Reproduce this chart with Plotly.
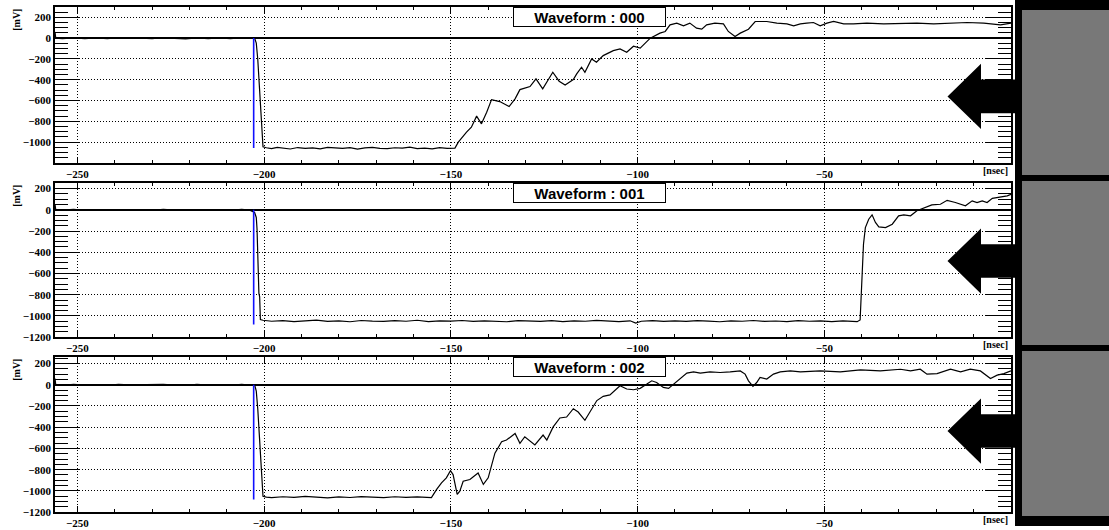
import plotly.graph_objects as go

W, H = 1109, 530

# ---------------- data (time in ns, amplitude in mV) ----------------
pre_t = [-256, -255.8, -254, -251, -248, -245, -242, -239, -236, -233, -230,
         -227, -224, -221, -218, -215, -212, -209, -206, -204]

# Waveform 000
t0 = pre_t + [-202.55, -202.1, -201.7, -201.4, -201.0, -200.75, -200.5, -200.3,
              -199.4, -198, -196.5, -195, -193, -191, -189, -187, -185, -183, -181,
              -179, -177, -175, -173, -171, -169, -167, -165, -163, -161, -159,
              -157, -155, -153, -151, -148.9, -148.0, -145.8, -144.5, -143.1,
              -141.8, -140.4, -139.1, -136.9, -134.4, -132.8, -131.5, -128.8,
              -127.2, -125.4, -124.3, -122.7, -121.0, -119.4, -117.2, -116.3,
              -115.0, -114.1, -112.3, -111.0, -109.2, -106.5, -104.7, -102.9,
              -101.1, -99.3, -96.6, -94.0, -92.6, -91.3, -89.5, -87.7, -86.0,
              -84.2, -82.8, -81.5, -79.3, -77.0, -75.7, -73.9, -72.5, -70.3,
              -68.5, -65.4, -62.7, -60.0, -58.2, -56.4, -54.7, -52.9, -51.1,
              -49.3, -47.5, -44.8, -42.2, -38.6, -34.1, -29.6, -25.2, -20.7,
              -16.2, -11.7, -7.3, -2.8, 0]
v0 = [60, 0, -4, 3, -6, 2, -5, 4, -3, 0, -6, 5, -2, -7, 3, -4, 2, -6, 4, -3] + \
     [0, -48, -205, -395, -553, -743, -965, -1044,
      -1054, -1062, -1050, -1058, -1066, -1052, -1060, -1055, -1064, -1050, -1058,
      -1061, -1053, -1067, -1056, -1051, -1060, -1063, -1054, -1058, -1049, -1062,
      -1057, -1065, -1053, -1060, -1057, -1000, -904, -856, -750,
      -824, -712, -591, -610, -658, -584, -495, -466,
      -392, -488, -424, -328, -414, -450, -399, -344,
      -280, -328, -200, -232, -168, -120, -104, -136,
      -78, -96, 0, 48, 64, 128, 144, 118, 144,
      96, 86, 128, 144, 137, 64, 15, 48, 86,
      160, 160, 144, 137, 118, 137, 144, 150, 118,
      144, 160, 137, 137, 144, 137, 144, 144, 137,
      144, 150, 144, 128, 145]

# Waveform 001
t1 = pre_t + [-202.55, -202.1, -201.9, -201.7, -201.5, -201.4, -201.2, -201.1,
              -201.0, -200.3, -198, -195, -192, -189, -186, -183, -180, -177,
              -174, -171, -168, -165, -162, -159, -156, -153, -150, -147, -144,
              -141, -138, -135, -132, -129, -126, -123, -120, -117, -114, -111,
              -108, -105, -102, -100.5, -99, -96, -93, -90, -87, -84, -81, -78,
              -75, -72, -69, -66, -63, -60, -57, -54, -51, -48, -45, -42,
              -41.2, -40.4, -39.9, -39.5, -39.0, -38.1, -37.2, -36.3, -35.4,
              -33.6, -31.8, -30.1, -28.7, -26.9, -25.2, -22.9, -21.2, -18.9,
              -17.1, -14.9, -12.2, -10.4, -9.1, -7.7, -6.4, -5.0, -2.8, -1.0, 0]
v1 = [55, 0, -3, 4, -5, 2, -6, 3, -4, 0, -5, 4, -3, -6, 2, -5, 3, -4, 5, -2] + \
     [-25, -72, -181, -507, -724, -787, -817, -988,
      -1035, -1041, -1050, -1044, -1053, -1047, -1040, -1051, -1046, -1055,
      -1043, -1049, -1052, -1045, -1050, -1041, -1054, -1047, -1049, -1043,
      -1052, -1046, -1050, -1055, -1044, -1048, -1051, -1045, -1053, -1047,
      -1050, -1042, -1049, -1054, -1046, -1068, -1050, -1045, -1052, -1047,
      -1051, -1044, -1049, -1055, -1046, -1050, -1043, -1052, -1048, -1054,
      -1045, -1050, -1047, -1053, -1046, -1049,
      -1054, -1038, -637, -324, -167, -88, -47, -119, -160,
      -167, -135, -56, -47, -56, -9, 22, 47, 53,
      90, 69, 38, 85, 69, 85, 69, 109, 122, 132, 147]

# Waveform 002
t2 = pre_t + [-202.55, -202.1, -201.7, -201.4, -201.0, -200.75, -200.5, -200.3,
              -199.4, -198, -195, -192, -189, -186, -183, -180, -177, -174, -171,
              -168, -165, -162, -159, -156.5,
              -155.2, -153.8, -152.5, -151.2, -150.1, -149.4, -148.3, -147.6,
              -146.7, -144.9, -142.7, -141.3, -140.0, -138.2, -136.4, -135.1,
              -132.8, -131.5, -130.2, -127.5, -125.3, -124.3, -122.6, -120.8,
              -119.0, -117.2, -115.9, -114.1, -112.7, -110.9, -109.2, -107.4,
              -104.7, -102.9, -101.1, -99.3, -97.5, -96.2, -94.9, -93.1, -91.7,
              -90.4, -88.6, -86.8, -85.0, -83.2, -80.6, -77.9, -75.2, -72.5,
              -71.2, -70.3, -69.1, -68.1, -67.2, -65.4, -63.6, -61.8, -59.1,
              -56.4, -51.1, -45.7, -40.3, -35.0, -29.6, -26.9, -24.3, -22.5,
              -19.8, -16.2, -13.5, -10.9, -8.2, -5.5, -3.7, -1.9, 0]
v2 = [58, 0, -5, 3, -4, 2, -6, 4, -2, 0, -5, 3, -4, -6, 3, -3, 2, -5, 4, -3] + \
     [0, -60, -230, -420, -600, -800, -990, -1050,
      -1058, -1063, -1055, -1061, -1052, -1060, -1066, -1056, -1062, -1054,
      -1059, -1064, -1055, -1061, -1057, -1060,
      -1063, -986, -924, -877, -809, -846, -1032, -1002,
      -909, -893, -831, -939, -877, -645, -537, -521,
      -459, -552, -490, -567, -474, -521, -397, -313,
      -304, -226, -257, -335, -257, -149, -109, -96,
      -9, -40, -47, -34, 6, 37, 21, -25, -34,
      6, 53, 109, 121, 109, 121, 115, 121, 130,
      100, 37, -16, 21, 68, 53, 100, 121, 130,
      121, 130, 121, 140, 130, 146, 130, 146, 100,
      105, 146, 121, 146, 130, 59, 90, 105, 130]

trig_t = [-202.8, -202.8]
trig_v = [[0, -1057], [0, -1081], [0, -1080]]

waves = [(t0, v0), (t1, v1), (t2, v2)]
titles = ["Waveform : 000", "Waveform : 001", "Waveform : 002"]
x_ticks = [-250, -200, -150, -100, -50]
y_ticks = [[200, 0, -200, -400, -600, -800, -1000],
           [200, 0, -200, -400, -600, -800, -1000, -1200],
           [200, 0, -200, -400, -600, -800, -1000, -1200]]
y_ranges = [[-1202, 300], [-1200, 254], [-1200, 262]]

# ---------------- layout helpers ----------------
def px(x):
    return x / W

def py(y):
    return 1 - y / H

panel_px = [(7, 165), (185, 341), (361, 518)]
x_dom = [px(55), px(1011)]

fig = go.Figure()
tickfont = dict(family="Liberation Serif", size=11, color="black", weight="bold")

for i, ((t, v), (top, bot)) in enumerate(zip(waves, panel_px)):
    n = "" if i == 0 else str(i + 1)
    fig.add_trace(go.Scatter(x=t, y=v, mode="lines", xaxis="x" + n, yaxis="y" + n,
                             line=dict(color="black", width=1.2), showlegend=False,
                             hoverinfo="skip"))
    fig.add_trace(go.Scatter(x=trig_t, y=trig_v[i], mode="lines", xaxis="x" + n,
                             yaxis="y" + n, line=dict(color="#1010ff", width=1.6),
                             showlegend=False, hoverinfo="skip"))
    common = dict(showline=True, linecolor="black", linewidth=1.5, mirror="allticks",
                  ticks="inside", tickcolor="black", tickwidth=1,
                  showgrid=True, gridcolor="black", griddash="1px,2px", gridwidth=1,
                  tickfont=tickfont, fixedrange=True)
    fig.layout["xaxis" + n] = dict(
        domain=x_dom, range=[-256, 0], anchor="y" + n, tickmode="array",
        tickvals=x_ticks, ticklen=6, zeroline=False,
        minor=dict(tickmode="linear", tick0=0, dtick=10, ticklen=3, ticks="inside",
                   tickcolor="black", showgrid=False),
        **common)
    fig.layout["yaxis" + n] = dict(
        domain=[py(bot), py(top)], range=y_ranges[i], anchor="x" + n,
        tickmode="array", tickvals=y_ticks[i], ticklen=25,
        zeroline=True, zerolinecolor="black", zerolinewidth=1.5,
        minor=dict(tickmode="linear", tick0=0, dtick=50, ticklen=13, ticks="inside",
                   tickcolor="black", showgrid=False),
        **common)
    # title box
    fig.add_annotation(xref="paper", yref="paper", x=px(589.5), y=py(top),
                       xanchor="center", yanchor="top", showarrow=False,
                       text="<b>" + titles[i] + "</b>",
                       font=dict(family="Liberation Sans", size=15, color="black"),
                       bgcolor="white", bordercolor="black", borderwidth=1,
                       borderpad=1, width=149, height=16)
    # axis units
    fig.add_annotation(xref="paper", yref="paper", x=px(17), y=py(top + 13),
                       xanchor="center", yanchor="middle", showarrow=False,
                       text="<b>[mV]</b>", textangle=-90,
                       font=dict(family="Liberation Serif", size=10, color="black"))
    fig.add_annotation(xref="paper", yref="paper", x=px(1010), y=py(bot + 7),
                       xanchor="right", yanchor="middle", showarrow=False,
                       text="<b>[nsec]</b>",
                       font=dict(family="Liberation Serif", size=10, color="black"))

# right-hand gray boxes with arrows (decoration)
shapes = [dict(type="rect", xref="paper", yref="paper", x0=px(1015), x1=px(1112),
               y0=py(532), y1=py(0), fillcolor="black", line=dict(width=0))]
for (g0, g1) in [(10, 177), (183, 349), (355, 522)]:
    shapes.append(dict(type="rect", xref="paper", yref="paper", x0=px(1022),
                       x1=px(1112), y0=py(g1), y1=py(g0), fillcolor="#787878",
                       line=dict(width=0)))
for cy in [97.5, 264, 436]:
    pts = [(947.5, cy), (981, cy - 33), (981, cy - 17), (1016, cy - 17),
           (1016, cy + 17), (981, cy + 17), (981, cy + 33)]
    path = "M " + " L ".join(f"{px(a):.5f},{py(b):.5f}" for a, b in pts) + " Z"
    shapes.append(dict(type="path", xref="paper", yref="paper", path=path,
                       fillcolor="black", line=dict(width=0)))

fig.update_layout(width=W, height=H, margin=dict(l=0, r=0, t=0, b=0),
                  paper_bgcolor="white", plot_bgcolor="white", shapes=shapes,
                  showlegend=False)

fig.write_html("out.html", config={"displayModeBar": False},
               post_script="document.body.style.margin='0';"
                           "document.body.style.overflow='hidden';")
